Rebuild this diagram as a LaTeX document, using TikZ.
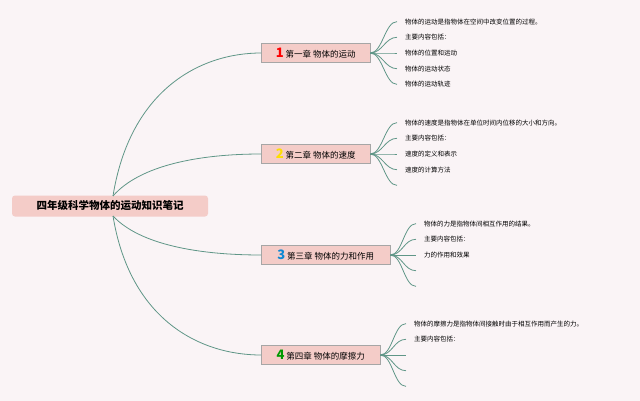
\documentclass[tikz,border=0pt]{standalone}
\usepackage{fontspec}
\setmainfont{Noto Sans CJK SC}
\definecolor{branch}{RGB}{95,150,135}
\definecolor{boxfill}{RGB}{244,204,200}
\definecolor{bg}{RGB}{250,244,246}
\tikzset{
  chapter/.style={draw=gray!70,fill=boxfill,inner sep=2pt,minimum height=19pt,font=\fontsize{8.5}{10}\selectfont,anchor=west},
  leaf/.style={anchor=west,inner sep=0pt,font=\fontsize{6.5}{8}\selectfont},
  link/.style={line width=0.8pt,color=branch}
}
\begin{document}
\begin{tikzpicture}[x=1pt,y=-1pt]
\fill[bg] (0,0) rectangle (640,401);
\useasboundingbox (0,0) rectangle (640,401);
\node[draw=none,fill=boxfill,rounded corners=3pt,inner sep=3pt,minimum width=196pt,minimum height=21pt,font=\fontsize{10.5}{12}\selectfont\bfseries] (root) at (110,206) {四年级科学物体的运动知识笔记};
\node[chapter,minimum width=109pt] (c1) at (261,53) {{\color{red}\fontsize{13}{13}\selectfont\bfseries 1} 第一章 物体的运动};
\node[chapter,minimum width=109pt] (c2) at (261,154) {{\color{yellow!80!orange}\fontsize{13}{13}\selectfont\bfseries 2} 第二章 物体的速度};
\node[chapter,minimum width=129pt] (c3) at (261,255) {{\color{cyan!70!blue}\fontsize{13}{13}\selectfont\bfseries 3} 第三章 物体的力和作用};
\node[chapter,minimum width=119pt] (c4) at (261,355) {{\color{green!60!black}\fontsize{13}{13}\selectfont\bfseries 4} 第四章 物体的摩擦力};
\coordinate (r1) at (113,196);
\coordinate (r2) at (113,216);
\draw[link] (r1) .. controls (130,90) and (200,53) .. (c1.west);
\draw[link] (r1) .. controls (140,165) and (200,154) .. (c2.west);
\draw[link] (r2) .. controls (140,245) and (200,255) .. (c3.west);
\draw[link] (r2) .. controls (130,320) and (200,355) .. (c4.west);
% leaves
\foreach \c/\x/\y/\a/\b/\d/\e/\f in {
  c1/397/53/物体的运动是指物体在空间中改变位置的过程。/主要内容包括：/物体的位置和运动/物体的运动状态/物体的运动轨迹,
  c2/397/154/物体的速度是指物体在单位时间内位移的大小和方向。/主要内容包括：/速度的定义和表示/速度的计算方法/{},
  c3/416/255/物体的力是指物体间相互作用的结果。/主要内容包括：/力的作用和效果/{}/{},
  c4/406/355/物体的摩擦力是指物体间接触时由于相互作用而产生的力。/主要内容包括：/{}/{}/{}}{
  \foreach \k/\t in {-2/\a,-1/\b,0/\d,1/\e,2/\f}{
    \coordinate (\c e\k) at (\x,\y+15.7*\k);
    \draw[link] (\c.east) .. controls +(12,0) and +(-12,0) .. (\c e\k);
    \node[leaf] at ([xshift=8pt]\c e\k) {\t};
  }
}
\end{tikzpicture}
\end{document}
